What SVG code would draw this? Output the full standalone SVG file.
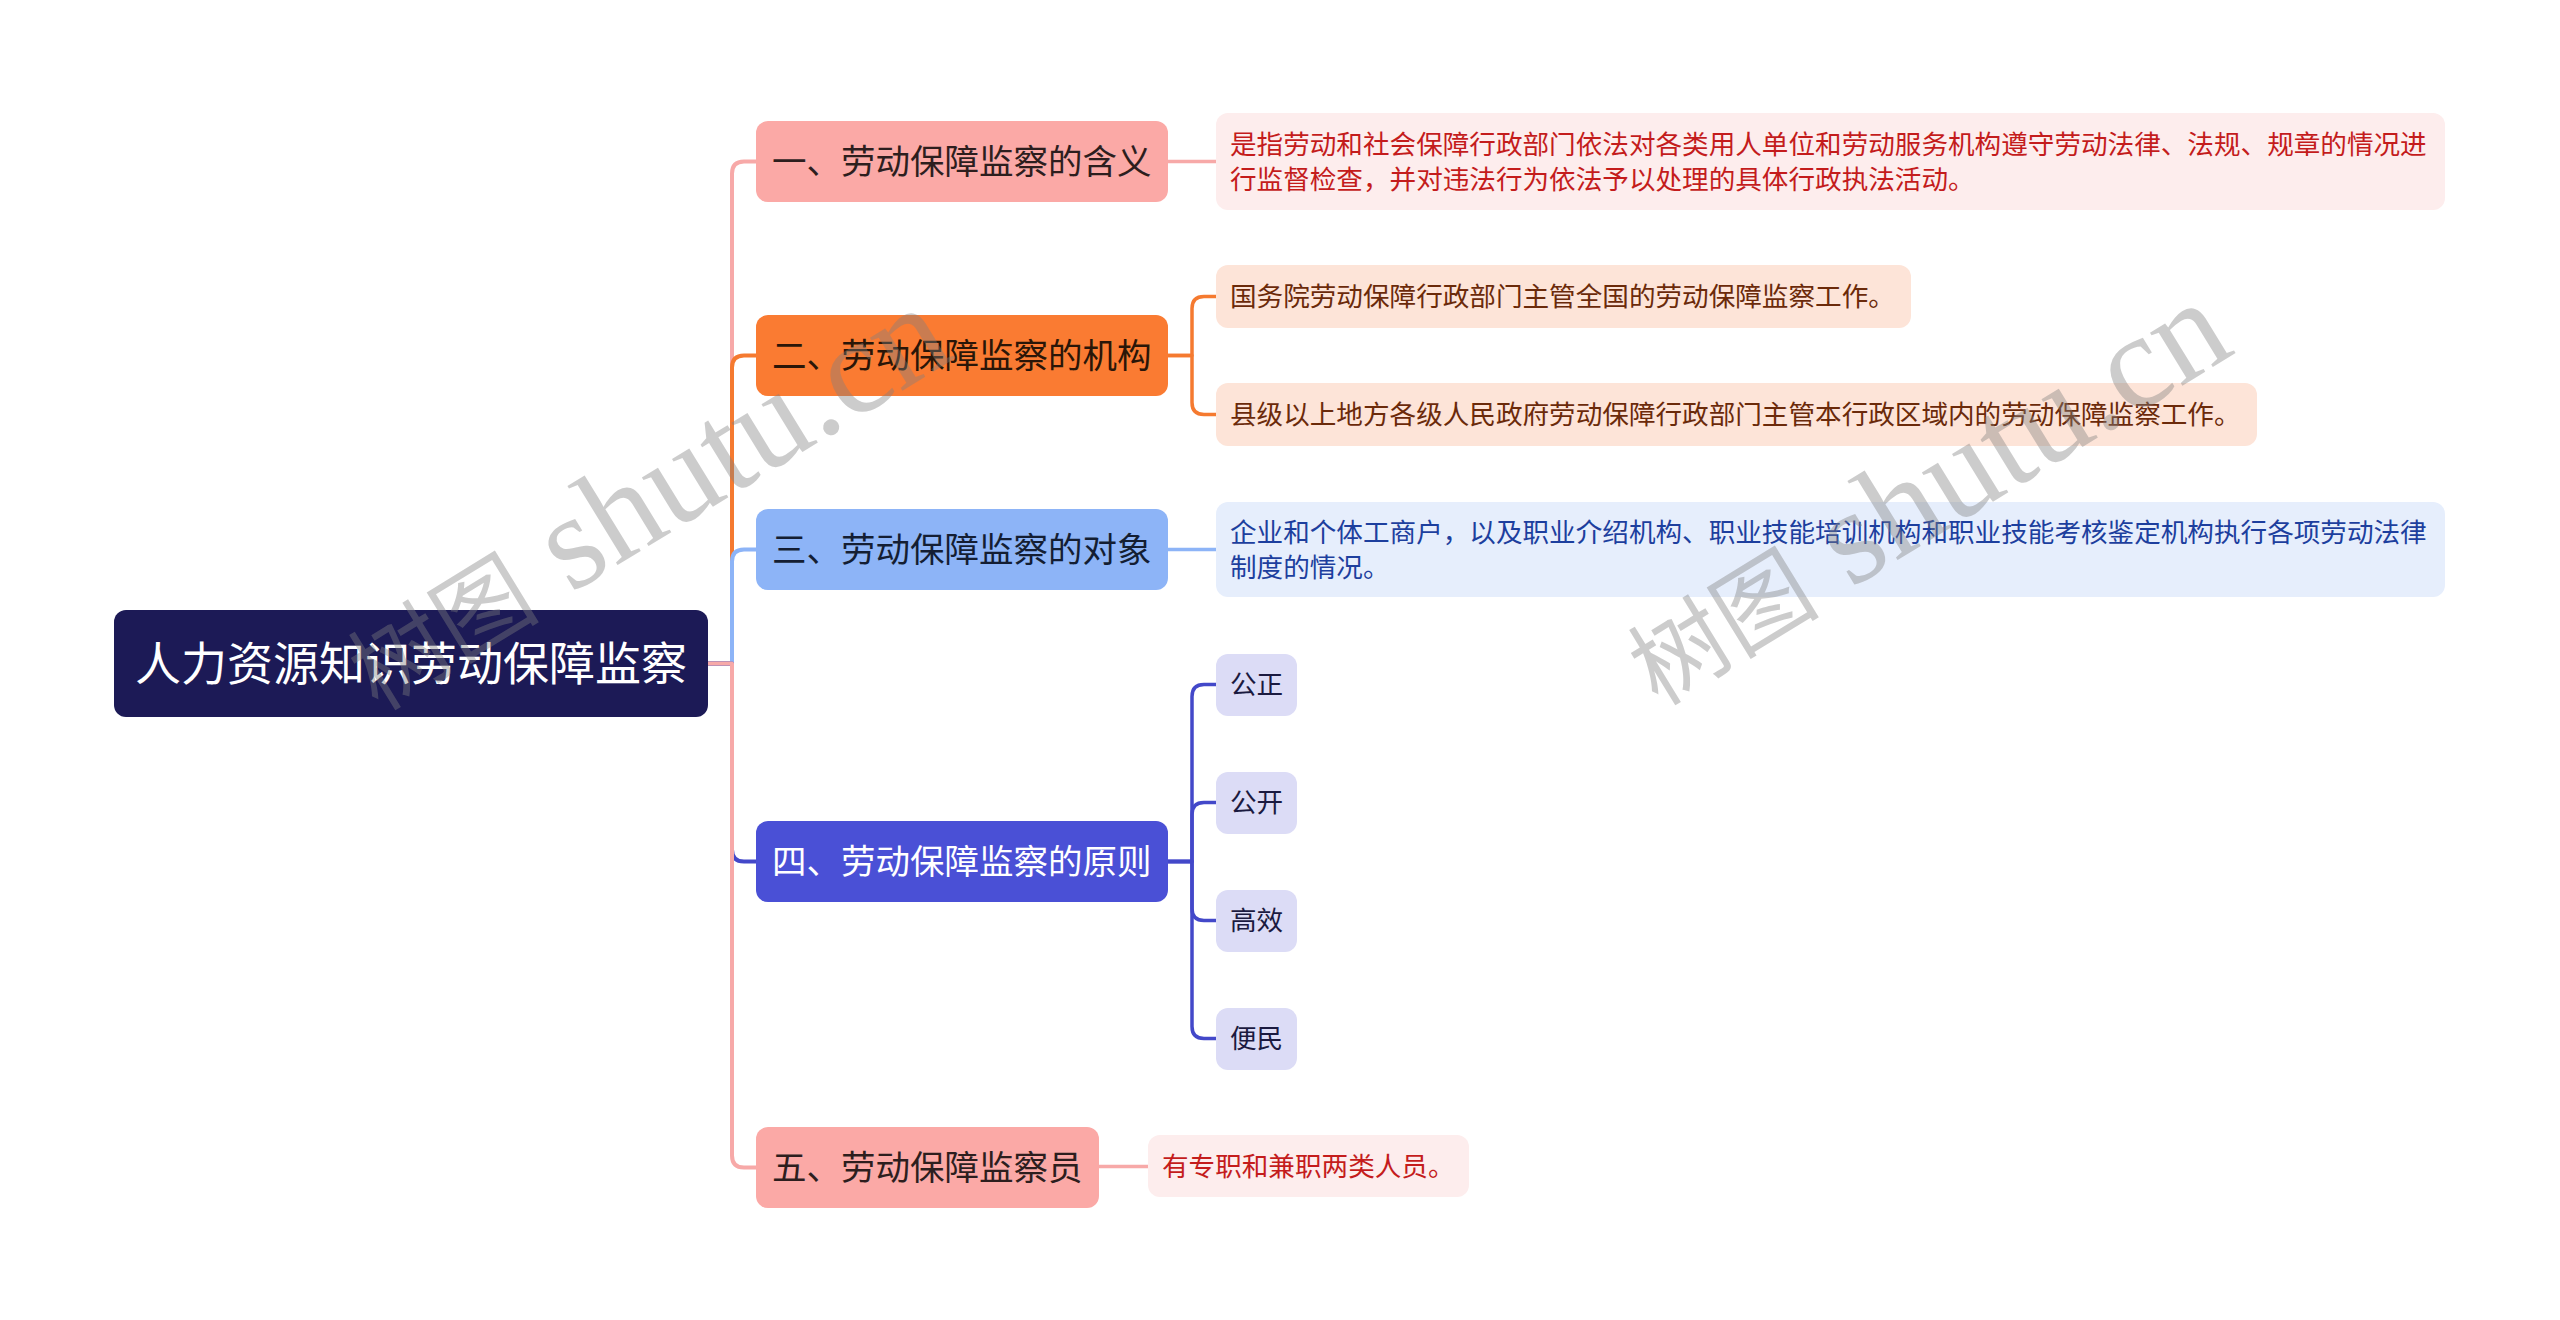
<svg xmlns="http://www.w3.org/2000/svg" width="2560" height="1320" viewBox="0 0 2560 1320">
<style>
.t{font-family:"Noto Sans CJK SC","Noto Sans",sans-serif}
.root{font-size:46px;fill:#ffffff;text-anchor:middle}
.main{font-size:34.5px}
.leaf{font-size:26.6px}
.c{fill:none;stroke-width:4;stroke-linecap:round;stroke-linejoin:round}
.sc{fill:none;stroke-width:3.5;stroke-linecap:round;stroke-linejoin:round}
.pink{stroke:#f7a9a8}
.orange{stroke:#f57a30}
.blue{stroke:#8db4f7}
.indigo{stroke:#4348c9}
.wm{font-family:"Liberation Serif","Noto Sans CJK SC",serif;fill:#808080;fill-opacity:0.4}
</style>
<rect width="2560" height="1320" fill="#ffffff"/>
<g id="connectors">
<path class="c pink" d="M708,663.5 H732 V173.5 Q732,161.5 744,161.5 H756"/>
<path class="c orange" d="M708,663.5 H732 V367.5 Q732,355.5 744,355.5 H756"/>
<path class="c blue" d="M708,663.5 H732 V561.5 Q732,549.5 744,549.5 H756"/>
<path class="c indigo" d="M708,663.5 H732 V849.5 Q732,861.5 744,861.5 H756"/>
<path class="c pink" d="M708,663.5 H732 V1155.5 Q732,1167.5 744,1167.5 H756"/>
<path class="sc pink" d="M1168,161.5 H1216"/>
<path class="sc orange" d="M1168,355.5 H1192 V308.5 Q1192,296.5 1204,296.5 H1216"/>
<path class="sc orange" d="M1168,355.5 H1192 V402.5 Q1192,414.5 1204,414.5 H1216"/>
<path class="sc blue" d="M1168,549.5 H1216"/>
<path class="sc indigo" d="M1167,861.5 H1192 V696.5 Q1192,684.5 1204,684.5 H1216"/>
<path class="sc indigo" d="M1167,861.5 H1192 V814.5 Q1192,802.5 1204,802.5 H1216"/>
<path class="sc indigo" d="M1167,861.5 H1192 V908.5 Q1192,920.5 1204,920.5 H1216"/>
<path class="sc indigo" d="M1167,861.5 H1192 V1026.5 Q1192,1038.5 1204,1038.5 H1216"/>
<path class="sc pink" d="M1099,1166.5 H1148"/>
</g>
<g id="root">
<rect x="114" y="610" width="594" height="107" rx="12" fill="#1c1a56"/>
<text class="t root" x="411" y="680">人力资源知识劳动保障监察</text>
</g>
<g id="n1">
<rect x="756" y="121" width="412" height="81" rx="12" fill="#fba9a6"/>
<text class="t main" x="772" y="174" fill="#2d1e1e">一、劳动保障监察的含义</text>
</g>
<g id="n2">
<rect x="756" y="315" width="412" height="81" rx="12" fill="#fa7b32"/>
<text class="t main" x="772" y="368" fill="#2a1608">二、劳动保障监察的机构</text>
</g>
<g id="n3">
<rect x="756" y="509" width="412" height="81" rx="12" fill="#8db4f7"/>
<text class="t main" x="772" y="562" fill="#141e33">三、劳动保障监察的对象</text>
</g>
<g id="n4">
<rect x="756" y="821" width="412" height="81" rx="12" fill="#4a50d6"/>
<text class="t main" x="772" y="874" fill="#ffffff">四、劳动保障监察的原则</text>
</g>
<g id="n5">
<rect x="756" y="1127" width="343" height="81" rx="12" fill="#fba9a6"/>
<text class="t main" x="772" y="1180" fill="#2d1e1e">五、劳动保障监察员</text>
</g>
<g id="l1">
<rect x="1216" y="113" width="1229" height="97" rx="12" fill="#fdeded"/>
<text class="t leaf" fill="#c41c1c"><tspan x="1230" y="153.5">是指劳动和社会保障行政部门依法对各类用人单位和劳动服务机构遵守劳动法律、法规、规章的情况进</tspan><tspan x="1230" y="188.5">行监督检查，并对违法行为依法予以处理的具体行政执法活动。</tspan></text>
</g>
<g id="l2a">
<rect x="1216" y="265" width="695" height="63" rx="12" fill="#fde4d8"/>
<text class="t leaf" x="1230" y="306" fill="#6b2a0a">国务院劳动保障行政部门主管全国的劳动保障监察工作。</text>
</g>
<g id="l2b">
<rect x="1216" y="383" width="1041" height="63" rx="12" fill="#fde4d8"/>
<text class="t leaf" x="1230" y="424" fill="#6b2a0a">县级以上地方各级人民政府劳动保障行政部门主管本行政区域内的劳动保障监察工作。</text>
</g>
<g id="l3">
<rect x="1216" y="502" width="1229" height="95" rx="12" fill="#e6eefc"/>
<text class="t leaf" fill="#1d3f9e"><tspan x="1230" y="541.5">企业和个体工商户，以及职业介绍机构、职业技能培训机构和职业技能考核鉴定机构执行各项劳动法律</tspan><tspan x="1230" y="576.5">制度的情况。</tspan></text>
</g>
<g id="l4a">
<rect x="1216" y="654" width="81" height="62" rx="12" fill="#dcdcf6"/>
<text class="t leaf" x="1230" y="694" fill="#1b1a40">公正</text>
</g>
<g id="l4b">
<rect x="1216" y="772" width="81" height="62" rx="12" fill="#dcdcf6"/>
<text class="t leaf" x="1230" y="812" fill="#1b1a40">公开</text>
</g>
<g id="l4c">
<rect x="1216" y="890" width="81" height="62" rx="12" fill="#dcdcf6"/>
<text class="t leaf" x="1230" y="930" fill="#1b1a40">高效</text>
</g>
<g id="l4d">
<rect x="1216" y="1008" width="81" height="62" rx="12" fill="#dcdcf6"/>
<text class="t leaf" x="1230" y="1048" fill="#1b1a40">便民</text>
</g>
<g id="l5">
<rect x="1148" y="1135" width="321" height="62" rx="12" fill="#fdeded"/>
<text class="t leaf" x="1162" y="1175.5" fill="#c41c1c">有专职和兼职两类人员。</text>
</g>
<g id="watermark">
<text class="wm" transform="translate(378,712) rotate(-31.5)"><tspan font-size="96">树图</tspan><tspan font-size="135"> shutu.cn</tspan></text>
<text class="wm" transform="translate(1658,707) rotate(-31.5)"><tspan font-size="96">树图</tspan><tspan font-size="135"> shutu.cn</tspan></text>
</g>
</svg>
